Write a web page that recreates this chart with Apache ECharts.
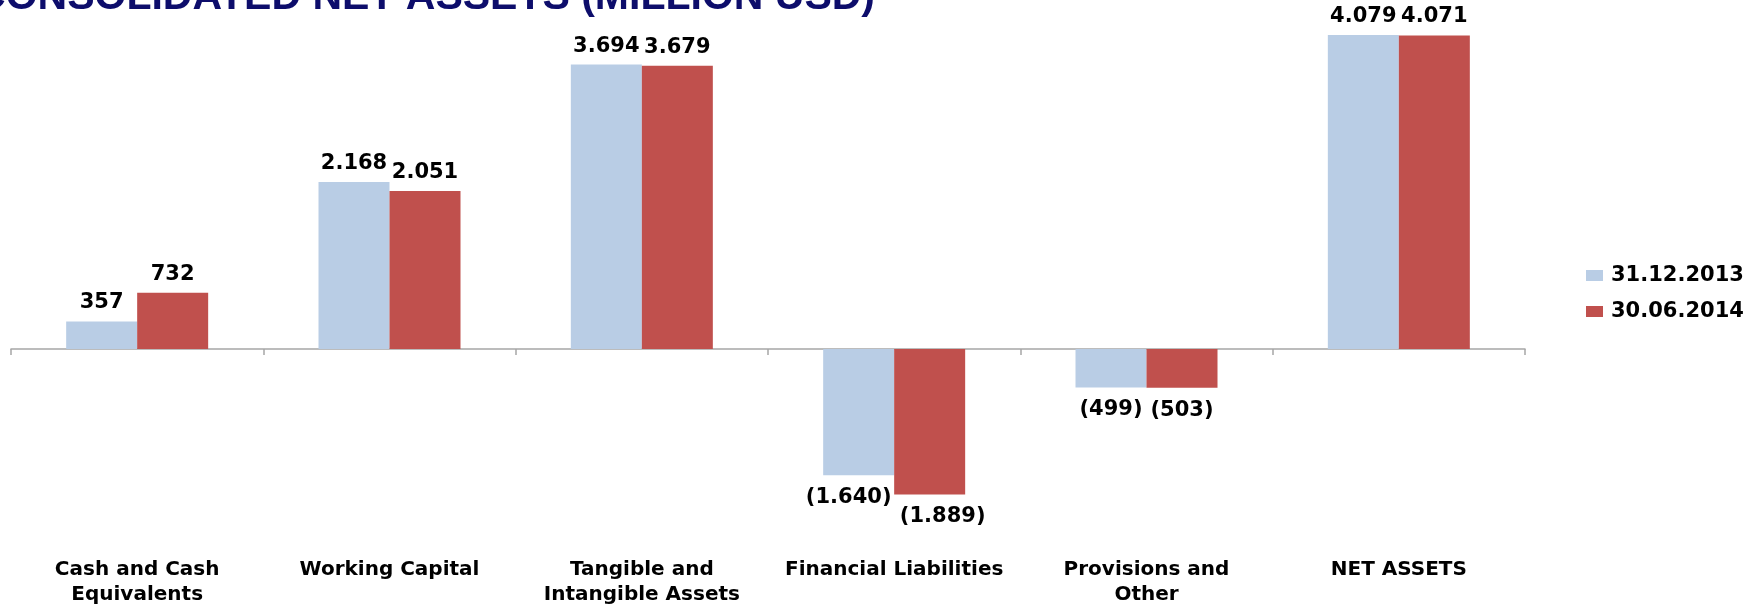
<!DOCTYPE html>
<html>
<head>
<meta charset="utf-8">
<script src="https://cdn.jsdelivr.net/npm/echarts@6/dist/echarts.min.js"></script>
<style>
  html, body { margin: 0; padding: 0; background: #fff; }
  #chart { width: 1759px; height: 609px; }
</style>
</head>
<body>
<div id="chart"></div>
<script>
const categories = [
  'Cash and Cash\nEquivalents',
  'Working Capital',
  'Tangible and\nIntangible Assets',
  'Financial Liabilities',
  'Provisions and\nOther',
  'NET ASSETS'
]
const seriesNames = ['31.12.2013', '30.06.2014']
const values2013 = [357, 2168, 3694, -1640, -499, 4079]
const values2014 = [732, 2051, 3679, -1889, -503, 4071]

const colors = ['#B9CDE5', '#C0504D']
const labelFont = 'DejaVu Sans'

// 1.640 style, negatives in brackets
function fmt(v) {
  const s = Math.abs(v).toString().replace(/\B(?=(\d{3})+(?!\d))/g, '.')
  return v < 0 ? '(' + s + ')' : s
}

// excel pushed the two liabilities labels apart
const nudge = { 0: { 3: [-10, 0] }, 1: { 3: [13, 0] } }

function buildSeries(name, vals, idx) {
  return {
    name: name,
    type: 'bar',
    xAxisIndex: 0,
    barWidth: 71,
    barGap: '0%',
    itemStyle: { color: colors[idx] },
    data: vals.map((v, i) => {
      const item = {
        value: v,
        label: {
          position: v < 0 ? 'bottom' : 'top',
          distance: v < 0 ? 12 : 8
        }
      }
      if (nudge[idx][i]) item.label.offset = nudge[idx][i]
      return item
    }),
    label: {
      show: true,
      formatter: (p) => fmt(p.value),
      color: '#000',
      fontFamily: labelFont,
      fontWeight: 'bold',
      fontSize: 21
    }
  }
}

const chart = echarts.init(document.getElementById('chart'))
chart.setOption({
  animation: false,
  color: colors,
  graphic: [
    {
      type: 'text',
      x: 875,
      y: -2,
      style: {
        text: 'CONSOLIDATED NET ASSETS (MILLION USD)',
        font: 'bold 41px "Liberation Sans"',
        fill: '#0D0D6B',
        textAlign: 'right',
        textVerticalAlign: 'middle'
      }
    }
  ],
  legend: {
    data: seriesNames,
    orient: 'vertical',
    left: 1581,
    top: 260,
    icon: 'rect',
    itemWidth: 17,
    itemHeight: 11,
    itemGap: 15,
    textStyle: {
      fontFamily: labelFont,
      fontWeight: 'bold',
      fontSize: 21,
      color: '#000',
      padding: [0, 0, 0, 3]
    }
  },
  grid: {
    left: 11,
    right: 234,
    top: 2.5,
    bottom: 67.5,
    outerBoundsMode: 'none'
  },
  xAxis: [
    {
      // zero line with the ticks
      type: 'category',
      data: categories,
      position: 'bottom',
      axisLine: { onZero: true, lineStyle: { color: '#A6A6A6', width: 1.5 } },
      axisTick: { show: true, length: 6, lineStyle: { color: '#A6A6A6', width: 1.5 } },
      axisLabel: { show: false }
    },
    {
      // labels sit at the bottom of the plot
      type: 'category',
      data: categories,
      position: 'bottom',
      axisLine: { show: false, onZero: false },
      axisTick: { show: false },
      axisLabel: {
        margin: 16,
        interval: 0,
        color: '#000',
        fontFamily: labelFont,
        fontWeight: 'bold',
        fontSize: 20,
        lineHeight: 25
      }
    }
  ],
  yAxis: {
    type: 'value',
    show: false,
    min: -2500,
    max: 4500,
    splitLine: { show: false }
  },
  series: [
    buildSeries(seriesNames[0], values2013, 0),
    buildSeries(seriesNames[1], values2014, 1)
  ]
})
</script>
</body>
</html>
